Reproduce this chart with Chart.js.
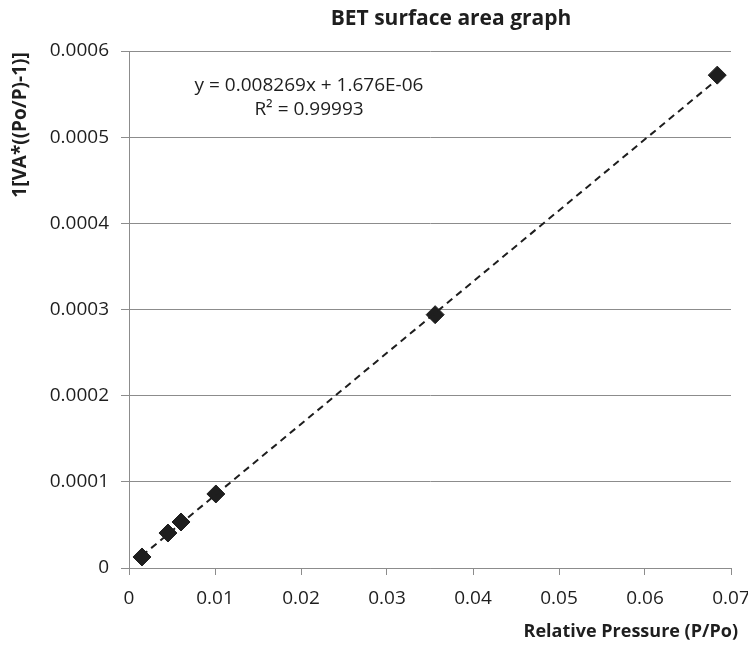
<!DOCTYPE html>
<html>
<head>
<meta charset="utf-8">
<script src="https://cdn.jsdelivr.net/npm/chart.js@4/dist/chart.umd.min.js"></script>
<style>
  html, body { margin: 0; padding: 0; background: #fff; }
  #wrap { width: 748px; height: 646px; position: relative; }
</style>
</head>
<body>
<div id="wrap"><canvas id="c"></canvas></div>
<script>
// values
const xValues = [0.00151, 0.00453, 0.00605, 0.0101, 0.0356, 0.0684];
const yValues = [0.0000128, 0.0000406, 0.0000534, 0.0000859, 0.000294, 0.000572];
// linear trendline end points (Excel style)
const trendX = [0.0015, 0.0684];
const trendY = [0.0000142, 0.000567];
const equationLines = ['y = 0.008269x + 1.676E-06', 'R² = 0.99993'];
const chartTitle = 'BET surface area graph';
const xTitle = 'Relative Pressure (P/Po)';
const yTitle = '1[VA*((Po/P)-1)]';

const FONT = "'Open Sans', 'DejaVu Sans', sans-serif";
const ink = '#1e1e1e';
const gridGray = '#8c8c8c';

const points = xValues.map((x, i) => ({ x: x, y: yValues[i] }));
const trend = trendX.map((x, i) => ({ x: x, y: trendY[i] }));

const textPlugin = {
  id: 'texts',
  afterDraw(chart) {
    const ctx = chart.ctx;
    ctx.save();
    ctx.fillStyle = ink;
    ctx.textBaseline = 'middle';

    ctx.font = 'bold 21px ' + FONT;
    ctx.textAlign = 'center';
    ctx.fillText(chartTitle, 451, 19);

    ctx.font = 'bold 18px ' + FONT;
    ctx.textAlign = 'right';
    ctx.fillText(xTitle, 738, 632);

    ctx.save();
    ctx.translate(21, 125);
    ctx.rotate(-Math.PI / 2);
    ctx.textAlign = 'center';
    ctx.font = 'bold 19px ' + FONT;
    ctx.fillText(yTitle, 0, 0);
    ctx.restore();

    ctx.font = '19px ' + FONT;
    ctx.textAlign = 'center';
    ctx.fillText(equationLines[0], 309, 86);
    ctx.fillText(equationLines[1], 309, 110);
    ctx.restore();
  }
};

new Chart(document.getElementById('c'), {
  type: 'scatter',
  data: {
    datasets: [
      {
        type: 'line',
        label: 'trend',
        data: trend,
        borderColor: ink,
        borderWidth: 2,
        borderDash: [7, 5],
        pointRadius: 0,
        fill: false
      },
      {
        label: 'data',
        data: points,
        pointStyle: 'rectRot',
        pointRadius: 9,
        pointHoverRadius: 9,
        backgroundColor: ink,
        borderColor: ink,
        borderWidth: 1
      }
    ]
  },
  options: {
    responsive: true,
    maintainAspectRatio: false,
    animation: false,
    layout: { padding: { top: 51, right: 17, left: 0, bottom: 0 } },
    plugins: {
      legend: { display: false },
      tooltip: { enabled: false }
    },
    scales: {
      x: {
        type: 'linear',
        min: 0,
        max: 0.07,
        afterFit: (axis) => { axis.height = 78; axis.paddingRight = 0; axis.paddingLeft = 0; },
        grid: {
          drawOnChartArea: false,
          drawTicks: true,
          tickLength: 7,
          color: gridGray
        },
        border: { color: gridGray, width: 1 },
        ticks: {
          stepSize: 0.01,
          padding: 12,
          color: ink,
          font: { family: FONT, size: 19 },
          callback: (v) => v === 0 ? '0' : v.toFixed(2)
        }
      },
      y: {
        min: 0,
        max: 0.0006,
        afterFit: (axis) => { axis.width = 129; axis.paddingTop = 0; axis.paddingBottom = 0; },
        grid: {
          color: gridGray,
          drawTicks: true,
          tickLength: 8
        },
        border: { color: gridGray, width: 1 },
        ticks: {
          stepSize: 0.0001,
          padding: 12,
          color: ink,
          font: { family: FONT, size: 19 },
          callback: (v) => v === 0 ? '0' : v.toFixed(4)
        }
      }
    }
  },
  plugins: [textPlugin]
});
</script>
</body>
</html>
